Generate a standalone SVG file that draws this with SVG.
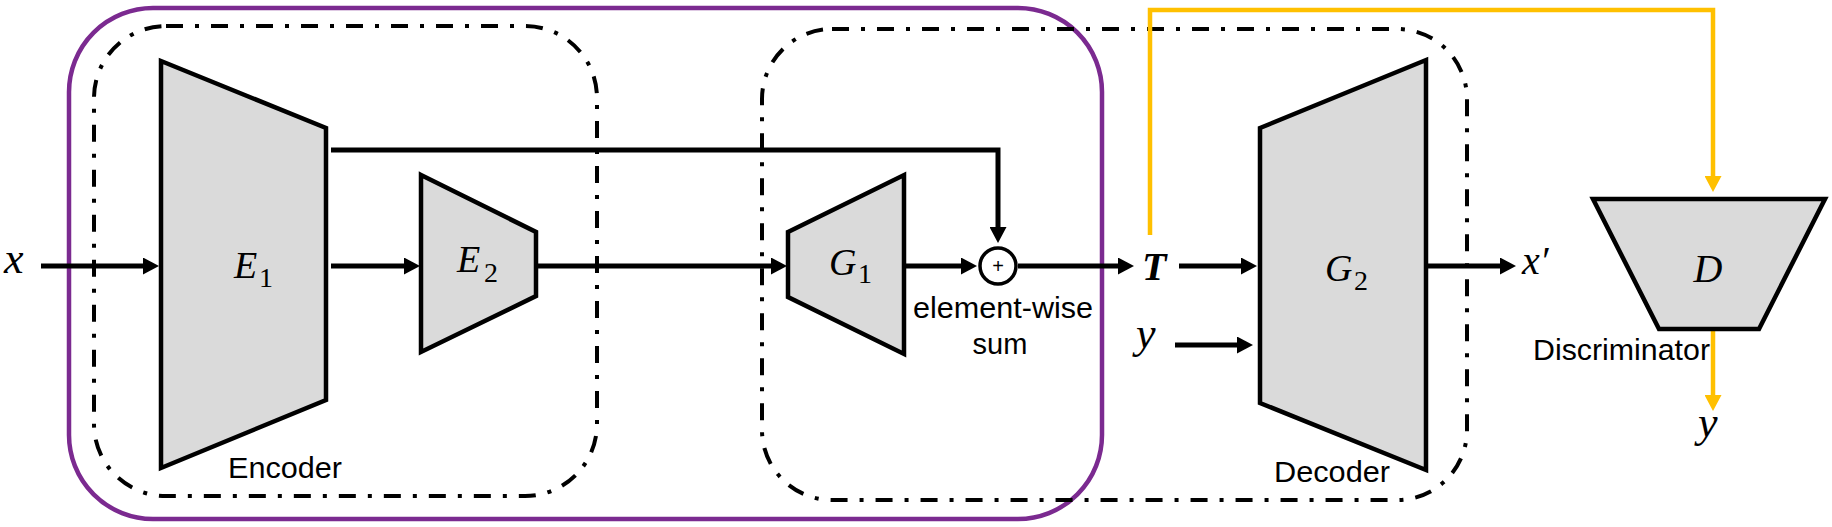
<svg xmlns="http://www.w3.org/2000/svg" width="1832" height="527" viewBox="0 0 1832 527">
<style>
.grp{fill:none;stroke:#7B2A90;stroke-width:4.5}
.dd{fill:none;stroke:#000;stroke-width:4;stroke-dasharray:17 12 4 12}
.blk{fill:#DADADA;stroke:#000;stroke-width:4.5;stroke-linejoin:miter}
.c{fill:none;stroke:#000;stroke-width:5}
.cy{fill:none;stroke:#FFC000;stroke-width:4.5}
.m{font-family:"Liberation Serif","DejaVu Serif",serif;font-style:italic;font-size:38px;fill:#000}
.v{font-family:"Liberation Serif","DejaVu Serif",serif;font-style:italic;font-size:44px;fill:#000}
.s{font-family:"Liberation Serif","DejaVu Serif",serif;font-size:28px;fill:#000}
.t{font-family:"Liberation Sans",Arial,sans-serif;font-size:29px;fill:#000}
</style>
<defs>
<marker id="ah" viewBox="0 0 16 17" refX="1" refY="8.5" markerWidth="16" markerHeight="17" markerUnits="userSpaceOnUse" orient="auto">
<path d="M0,0 L16,8.5 L0,17 z" fill="#000"/>
</marker>
<marker id="ahy" viewBox="0 0 16 17" refX="1" refY="8.5" markerWidth="16" markerHeight="17" markerUnits="userSpaceOnUse" orient="auto">
<path d="M0,0 L16,8.5 L0,17 z" fill="#FFC000"/>
</marker>
</defs>
<rect width="1832" height="527" fill="#fff"/>
<g id="groups">
<rect class="grp" x="69" y="8" width="1033" height="511" rx="84"/>
<rect id="encoder-box" class="dd" x="94" y="26" width="503" height="470" rx="72"/>
<rect id="decoder-box" class="dd" x="762" y="29" width="705" height="471" rx="70"/>
</g>
<g id="connectors">
<path class="c" d="M41,266 H144" marker-end="url(#ah)"/>
<path class="c" d="M331,266 H405" marker-end="url(#ah)"/>
<path class="c" d="M536,266 H772" marker-end="url(#ah)"/>
<path class="c" d="M906,266 H962" marker-end="url(#ah)"/>
<path class="c" d="M331,150 H998 V228" marker-end="url(#ah)"/>
<path class="c" d="M1018,266 H1119" marker-end="url(#ah)"/>
<path class="c" d="M1179,266 H1242" marker-end="url(#ah)"/>
<path class="c" d="M1175,345 H1238" marker-end="url(#ah)"/>
<path class="c" d="M1426,266 H1501" marker-end="url(#ah)"/>
<path class="cy" d="M1150,235 V10 H1713 V177" marker-end="url(#ahy)"/>
<path class="cy" d="M1713,329 V396" marker-end="url(#ahy)"/>
</g>
<g id="E1">
<polygon class="blk" points="161,61 326,128 326,400 161,468"/>
<text class="m" x="234" y="278">E</text><text class="s" x="259" y="287">1</text>
</g>
<g id="E2">
<polygon class="blk" points="421,175 536,232 536,296 421,352"/>
<text class="m" x="457" y="272">E</text><text class="s" x="484" y="282">2</text>
</g>
<g id="G1">
<polygon class="blk" points="788,232 904,175 904,354 788,297"/>
<text class="m" x="829" y="275">G</text><text class="s" x="858" y="283">1</text>
</g>
<g id="sum">
<circle cx="998" cy="266" r="18" fill="#fff" stroke="#000" stroke-width="3.5"/>
<text x="998" y="273" text-anchor="middle" style="font-family:'Liberation Sans',sans-serif;font-size:20px">+</text>
<text class="t" x="1003" y="318" text-anchor="middle" textLength="180" lengthAdjust="spacingAndGlyphs">element-wise</text>
<text class="t" x="1000" y="354" text-anchor="middle">sum</text>
</g>
<g id="G2">
<polygon class="blk" points="1260,128 1426,60 1426,470 1260,403"/>
<text class="m" x="1325" y="281">G</text><text class="s" x="1354" y="290">2</text>
</g>
<g id="D">
<polygon class="blk" points="1593,199 1825,199 1759,329 1659,329"/>
<text class="m" x="1708" y="282" text-anchor="middle" style="font-size:40px">D</text>
</g>
<g id="labels">
<text class="v" x="4" y="273">x</text>
<text class="m" x="1142" y="280" style="font-weight:bold;font-size:40px">T</text>
<text class="v" x="1136" y="348">y</text>
<text class="v" x="1522" y="274" style="font-size:40px">x′</text>
<text class="v" x="1698" y="437">y</text>
<text class="t" x="285" y="478" text-anchor="middle" textLength="114" lengthAdjust="spacingAndGlyphs">Encoder</text>
<text class="t" x="1332" y="482" text-anchor="middle" textLength="116" lengthAdjust="spacingAndGlyphs">Decoder</text>
<text class="t" x="1533" y="360" textLength="177" lengthAdjust="spacingAndGlyphs">Discriminator</text>
</g>
</svg>
